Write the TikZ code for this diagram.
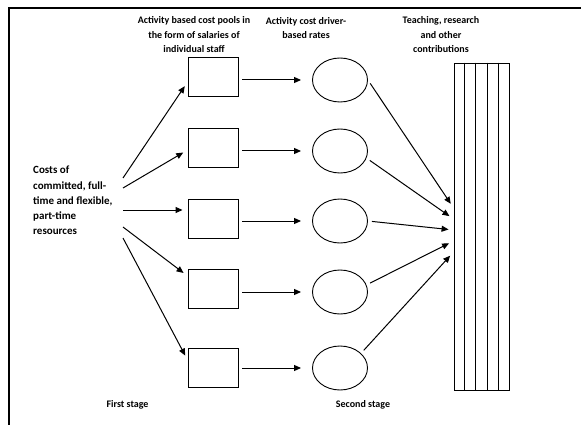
\documentclass[tikz,border=0pt]{standalone}
\usepackage{fontspec}
\setmainfont{Carlito}
\usetikzlibrary{arrows.meta,calc,shapes.geometric}
\begin{document}
\begin{tikzpicture}[x=1pt,y=-1pt,
  lbl/.style={font=\bfseries\fontsize{10}{14.5}\selectfont, align=center, inner sep=0pt},
  srclbl/.style={font=\bfseries\fontsize{11}{15.2}\selectfont, align=left, inner sep=0pt},
  pool/.style={draw, line width=0.9pt, minimum width=50pt, minimum height=39pt, inner sep=0pt},
  rate/.style={draw, ellipse, line width=0.9pt, minimum width=55pt, minimum height=44pt, inner sep=0pt},
  arr/.style={line width=1pt, -{Triangle[length=7pt,width=6pt]}},
  frameline/.style={line width=1.6pt},
]
\useasboundingbox (0,0) rectangle (581,425);
\draw[frameline] (581,8) -- (9,8) -- (9,425);

% labels
\node[lbl] (l1) at (194,35) {Activity based cost pools in\\the form of salaries of\\individual staff};
\node[lbl] (l2) at (306,28) {Activity cost driver-\\based rates};
\node[lbl] (l3) at (441,35) {Teaching, research\\and other\\contributions};
\node[srclbl, anchor=west] (src) at (33,200.5) {Costs of\\committed, full-\\time and flexible,\\part-time\\resources};
\node[lbl] (st1) at (127.5,405) {First stage};
\node[lbl] (st2) at (363,405) {Second stage};

% pools
\node[pool] (b1) at (213,76.5) {};
\node[pool] (b2) at (213,147.5) {};
\node[pool] (b3) at (213,218.5) {};
\node[pool] (b4) at (213,289) {};
\node[pool] (b5) at (213,367.5) {};

% rates
\node[rate] (e1) at (340,80) {};
\node[rate] (e2) at (340,151) {};
\node[rate] (e3) at (340,221) {};
\node[rate] (e4) at (340,292) {};
\node[rate] (e5) at (340,368) {};

% contributions bar
\node[draw, line width=0.9pt, minimum width=55pt, minimum height=327pt, inner sep=0pt] (bar) at (481.5,226.5) {};
\foreach \k in {0.2,0.4,0.6,0.8}
  \draw[line width=0.9pt] ($(bar.north west)!\k!(bar.north east)$) -- ($(bar.south west)!\k!(bar.south east)$);

% first stage arrows
\coordinate (s1) at (123,178);
\coordinate (s2) at (123,188);
\coordinate (s3) at (123,210);
\coordinate (s4) at (123,227);
\coordinate (s5) at (123,238);
\draw[arr, shorten >=5pt] (s1) -- ([yshift=-5.5pt]b1.west);
\draw[arr, shorten >=5pt] (s2) -- ([yshift=-2.5pt]b2.west);
\draw[arr, shorten >=5pt] (s3) -- ([yshift=8.5pt]b3.west);
\draw[arr, shorten >=5pt] (s4) -- ([yshift=13pt]b4.west);
\draw[arr, shorten >=5pt] (s5) -- ([yshift=7.5pt]b5.west);

% pool -> rate arrows
\foreach \i in {1,...,5}
  \draw[arr, shorten <=4pt, shorten >=11pt] (b\i.east |- e\i.west) -- (e\i.west);

% rate -> bar arrows
\draw[arr, shorten <=4pt, shorten >=5pt] (e1.east) -- ([yshift=18.5pt]bar.west);
\draw[arr, shorten <=4pt, shorten >=5pt] (e2.-15) -- ([yshift=7.5pt]bar.west);
\draw[arr, shorten <=4pt, shorten >=5pt] (e3.east) -- ([yshift=-3.5pt]bar.west);
\draw[arr, shorten <=4pt, shorten >=5pt] (e4.15) -- ([yshift=-14.5pt]bar.west);
\draw[arr, shorten <=4pt, shorten >=5pt] (e5.35) -- ([yshift=-25.5pt]bar.west);
\end{tikzpicture}
\end{document}
